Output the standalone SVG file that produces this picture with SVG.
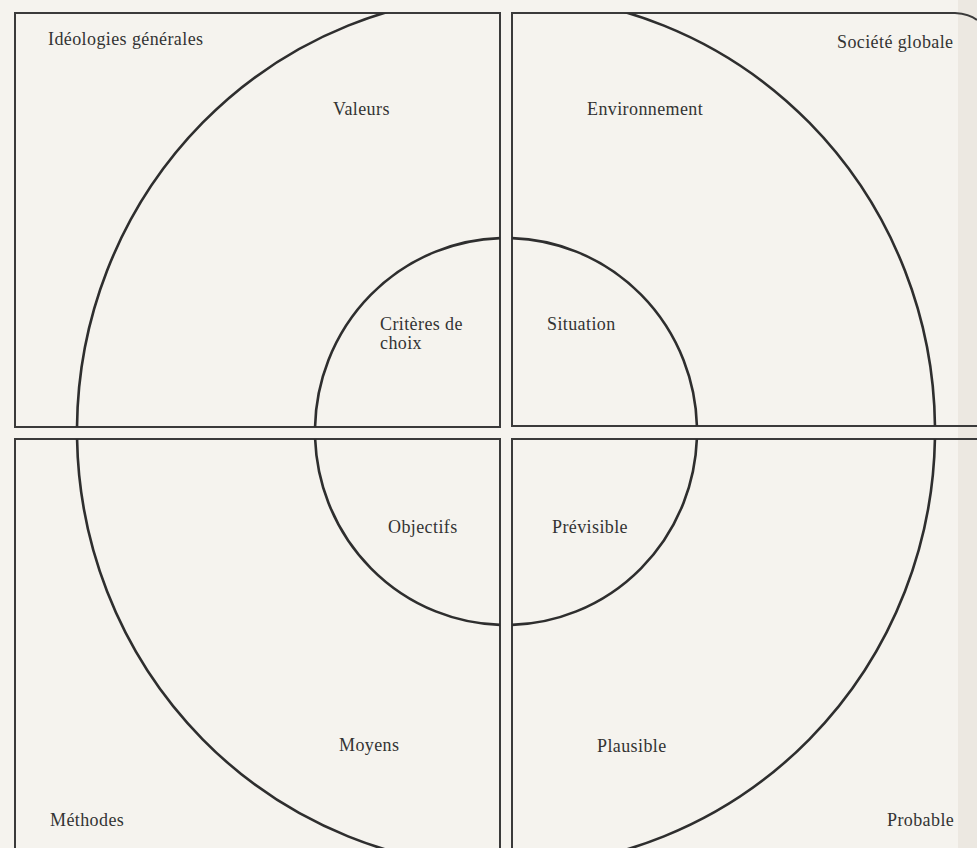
<svg xmlns="http://www.w3.org/2000/svg" width="977" height="848" viewBox="0 0 977 848">
<style>
.frame{fill:none;stroke:#3a3a3a;stroke-width:2}
.circ{fill:none;stroke:#2e2e2e;stroke-width:2.6}
.lbl{font-family:"Liberation Serif","Times New Roman",serif;font-size:18px;letter-spacing:0.4px;fill:#333}
</style>
<defs>
<clipPath id="cTL"><rect x="15" y="13" width="485" height="414"/></clipPath>
<clipPath id="cTR"><rect x="512" y="13" width="480" height="413"/></clipPath>
<clipPath id="cBL"><rect x="15" y="439" width="485" height="420"/></clipPath>
<clipPath id="cBR"><rect x="512" y="439" width="480" height="420"/></clipPath>
</defs>
<rect width="977" height="848" fill="#f5f3ee"/>
<rect x="958" y="0" width="19" height="848" fill="#ece8e1"/>

<g id="quad-top-left">
<path class="frame" d="M15,13 H500 V427 H15 Z"/>
<g clip-path="url(#cTL)">
<ellipse class="circ" cx="506" cy="431" rx="429" ry="436"/>
<ellipse class="circ" cx="506" cy="431.5" rx="191" ry="193.5"/>
</g>
<text class="lbl" x="48" y="45">Idéologies générales</text>
<text class="lbl" x="333" y="115">Valeurs</text>
<text class="lbl" x="380" y="330">Critères de</text>
<text class="lbl" x="380" y="349">choix</text>
</g>

<g id="quad-top-right">
<path class="frame" d="M990,426 H512 V13 H955 Q970,14 977,20"/>
<g clip-path="url(#cTR)">
<ellipse class="circ" cx="506" cy="431" rx="429" ry="436"/>
<ellipse class="circ" cx="506" cy="431.5" rx="191" ry="193.5"/>
</g>
<text class="lbl" x="587" y="115">Environnement</text>
<text class="lbl" x="837" y="48">Société globale</text>
<text class="lbl" x="547" y="330">Situation</text>
</g>

<g id="quad-bottom-left">
<path class="frame" d="M15,860 V439 H500 V860"/>
<g clip-path="url(#cBL)">
<ellipse class="circ" cx="506" cy="431" rx="429" ry="436"/>
<ellipse class="circ" cx="506" cy="431.5" rx="191" ry="193.5"/>
</g>
<text class="lbl" x="388" y="533">Objectifs</text>
<text class="lbl" x="339" y="751">Moyens</text>
<text class="lbl" x="50" y="826">Méthodes</text>
</g>

<g id="quad-bottom-right">
<path class="frame" d="M512,860 V439 H990"/>
<g clip-path="url(#cBR)">
<ellipse class="circ" cx="506" cy="431" rx="429" ry="436"/>
<ellipse class="circ" cx="506" cy="431.5" rx="191" ry="193.5"/>
</g>
<text class="lbl" x="552" y="533">Prévisible</text>
<text class="lbl" x="597" y="752">Plausible</text>
<text class="lbl" x="887" y="826">Probable</text>
</g>

<g id="connectors"></g>
</svg>
